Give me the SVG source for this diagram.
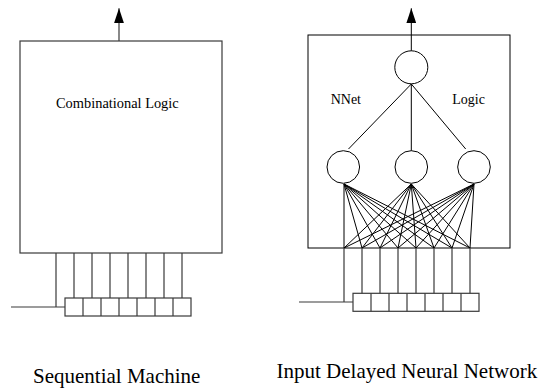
<svg xmlns="http://www.w3.org/2000/svg" width="546" height="389" viewBox="0 0 546 389">
<defs>
<style>
.box{fill:none;stroke:#000;stroke-width:1}
.gbox{fill:none;stroke:#3a3a3a;stroke-width:1.2}
.ln{fill:none;stroke:#000;stroke-width:1}
.gln{fill:none;stroke:#3a3a3a;stroke-width:1.2}
.t14{font-family:"Liberation Serif","Times New Roman",serif;font-size:14px;fill:#000}
.t21{font-family:"Liberation Serif","Times New Roman",serif;font-size:21px;fill:#000}
</style>
<marker id="arr" viewBox="0 0 15 10" refX="15" refY="5" markerWidth="15" markerHeight="10" markerUnits="userSpaceOnUse" orient="auto">
<path d="M0,0 L15,5 L0,10 z" fill="#000"/>
</marker>
</defs>
<rect width="546" height="389" fill="#fff"/>

<!-- Left: Sequential Machine -->
<g id="comb-logic">
<rect class="gbox" x="20" y="41" width="202" height="212"/>
<text class="t14" x="56" y="108" style="font-size:14.4px">Combinational Logic</text>
</g>
<g id="left-register">
<rect class="gbox" x="65" y="298" width="126" height="18"/>
<path class="gln" d="M83,298V316M101,298V316M119,298V316M137,298V316M155,298V316M173,298V316"/>
</g>

<!-- Right: Input Delayed Neural Network -->
<g id="nnet-box">
<rect class="box" x="308" y="35" width="202" height="213"/>
<text class="t14" x="330.7" y="104">NNet</text>
<text class="t14" x="452.3" y="104">Logic</text>
</g>
<g id="out-neuron"><circle class="box" cx="411.3" cy="67.3" r="16.5"/></g>
<g id="hid-1"><circle class="box" cx="343.3" cy="167" r="16.3"/></g>
<g id="hid-2"><circle class="box" cx="411.3" cy="167" r="16.3"/></g>
<g id="hid-3"><circle class="box" cx="474" cy="167" r="16.3"/></g>
<g id="right-register">
<rect class="gbox" x="353" y="293.3" width="126" height="18"/>
<path class="gln" d="M371,293.3V311.3M389,293.3V311.3M407,293.3V311.3M425,293.3V311.3M443,293.3V311.3M461,293.3V311.3"/>
</g>

<g id="connectors">
<!-- left -->
<line class="gln" x1="119" y1="41" x2="119" y2="8.3" marker-end="url(#arr)"/>
<path class="gln" d="M56,253V307M11,307H65M74,253V298M92,253V298M110,253V298M128,253V298M146,253V298M164,253V298M182,253V298"/>
<!-- right -->
<line class="ln" x1="411.3" y1="50.8" x2="411.3" y2="8.3" marker-end="url(#arr)"/>
<path class="ln" d="M411.3,84L348.5,149M411.3,84V150.7M411.3,84L465.7,149"/>
<path class="ln" d="M344,184L344,248M344,184L362,248M344,184L380,248M344,184L398,248M344,184L416,248M344,184L434,248M344,184L452,248M344,184L470,248"/>
<path class="ln" d="M411.3,184L344,248M411.3,184L362,248M411.3,184L380,248M411.3,184L398,248M411.3,184L416,248M411.3,184L434,248M411.3,184L452,248M411.3,184L470,248"/>
<path class="ln" d="M474,184L344,248M474,184L362,248M474,184L380,248M474,184L398,248M474,184L416,248M474,184L434,248M474,184L452,248M474,184L470,248"/>
<path class="gln" d="M344,248V302M299,302H353M362,248V293.3M380,248V293.3M398,248V293.3M416,248V293.3M434,248V293.3M452,248V293.3M470,248V293.3"/>
</g>

<text class="t21" x="33" y="383">Sequential Machine</text>
<text class="t21" x="276.5" y="378">Input Delayed Neural Network</text>
</svg>
